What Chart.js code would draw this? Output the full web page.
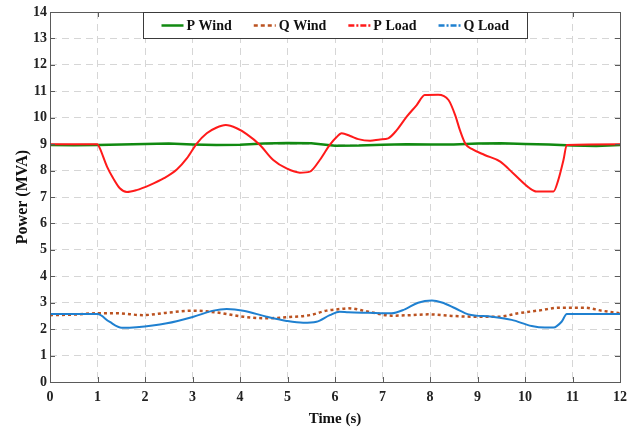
<!DOCTYPE html>
<html>
<head>
<meta charset="utf-8">
<script src="https://cdn.jsdelivr.net/npm/chart.js@4/dist/chart.umd.min.js"></script>
<style>
  html, body { margin: 0; padding: 0; background: #ffffff; }
  #wrap { width: 641px; height: 428px; }
</style>
</head>
<body>
<div id="wrap"><canvas id="power" width="641" height="428"></canvas></div>
<script>
// Tick labels
const timeTicks = [0, 1, 2, 3, 4, 5, 6, 7, 8, 9, 10, 11, 12];
const powerTicks = [0, 1, 2, 3, 4, 5, 6, 7, 8, 9, 10, 11, 12, 13, 14];

// Series labels
const seriesNames = ['P Wind', 'Q Wind', 'P Load', 'Q Load'];

// Wind active power (MVA)
const tPWind = [0, 0.5, 1, 1.5, 2, 2.5, 3, 3.5, 4, 4.5, 5, 5.5, 6, 6.5, 7, 7.5, 8, 8.5, 9, 9.5, 10, 10.5, 11, 11.5, 12];
const pWind  = [8.97, 8.96, 8.97, 8.99, 9.01, 9.02, 8.99, 8.97, 8.98, 9.02, 9.04, 9.03, 8.94, 8.95, 8.98, 9.0, 8.99, 8.99, 9.02, 9.03, 9.01, 8.99, 8.95, 8.93, 8.97];

// Wind reactive power
const tQWind = [0, 0.5, 0.98, 1.4, 1.96, 2.46, 3.02, 3.51, 4.07, 4.56, 5.05, 5.47, 5.82, 6.1, 6.28, 6.7, 7.19, 7.6, 7.96, 8.46, 8.95, 9.44, 9.86, 10.35, 10.7, 11.26, 11.61, 12];
const qWind  = [2.53, 2.55, 2.6, 2.6, 2.53, 2.62, 2.7, 2.63, 2.47, 2.41, 2.46, 2.53, 2.7, 2.76, 2.79, 2.66, 2.51, 2.53, 2.56, 2.5, 2.47, 2.47, 2.6, 2.72, 2.81, 2.81, 2.7, 2.6];

// Load active power
const tPLoad = [0, 1.0, 1.05, 1.2, 1.33, 1.47, 1.62, 1.82, 2.1, 2.4, 2.67, 2.88, 3.09, 3.3, 3.5, 3.7, 3.93, 4.14, 4.42, 4.7, 4.98, 5.26, 5.47, 5.68, 5.89, 6.03, 6.14, 6.32, 6.49, 6.74, 6.95, 7.12, 7.3, 7.51, 7.72, 7.89, 8.17, 8.39, 8.53, 8.63, 8.75, 8.88, 9.15, 9.48, 9.75, 10.1, 10.24, 10.6, 10.7, 10.81, 10.88, 12];
const pLoad  = [9.0, 9.0, 8.84, 8.15, 7.71, 7.33, 7.19, 7.26, 7.45, 7.71, 8.04, 8.46, 9.02, 9.41, 9.62, 9.72, 9.6, 9.38, 8.97, 8.4, 8.08, 7.92, 7.96, 8.4, 8.97, 9.26, 9.41, 9.31, 9.19, 9.13, 9.18, 9.22, 9.53, 10.04, 10.48, 10.86, 10.87, 10.67, 10.1, 9.53, 9.0, 8.82, 8.59, 8.34, 7.9, 7.33, 7.21, 7.21, 7.64, 8.4, 8.97, 9.0];

// Load reactive power
const tQLoad = [0, 1.0, 1.25, 1.51, 1.82, 2.46, 3.02, 3.44, 3.72, 4.07, 4.56, 4.98, 5.33, 5.61, 5.89, 6.1, 6.28, 6.7, 7.19, 7.47, 7.75, 8.04, 8.25, 8.53, 8.81, 9.3, 9.72, 10.14, 10.42, 10.6, 10.77, 10.88, 12];
const qLoad  = [2.57, 2.57, 2.28, 2.05, 2.07, 2.22, 2.47, 2.7, 2.76, 2.7, 2.47, 2.31, 2.24, 2.28, 2.53, 2.66, 2.64, 2.62, 2.6, 2.75, 3.0, 3.08, 3.01, 2.79, 2.56, 2.47, 2.35, 2.12, 2.06, 2.06, 2.28, 2.57, 2.57];

const pts = (ts, vs) => ts.map((t, i) => ({ x: t, y: vs[i] }));

const SERIF = '"Liberation Serif", "Times New Roman", serif';
const AXIS_COLOR = '#5a5a5a';

// Legend entry line styles (sample strokes inside the legend box)
const legendDash = [[], [4, 3], [6, 2, 2, 2], [6, 2, 2, 2]];

// Boxed axes with inward ticks on all four sides
const boxAxes = {
  id: 'boxAxes',
  afterDatasetsDraw(chart) {
    const { ctx, chartArea: a, scales } = chart;
    ctx.save();
    ctx.strokeStyle = AXIS_COLOR;
    ctx.lineWidth = 1;
    ctx.setLineDash([]);
    const len = 5;
    ctx.beginPath();
    timeTicks.forEach(v => {
      const x = Math.round(scales.x.getPixelForValue(v)) + 0.5;
      ctx.moveTo(x, a.bottom); ctx.lineTo(x, a.bottom - len);
      ctx.moveTo(x, a.top); ctx.lineTo(x, a.top + len);
    });
    powerTicks.forEach(v => {
      const y = Math.round(scales.y.getPixelForValue(v)) + 0.5;
      ctx.moveTo(a.left, y); ctx.lineTo(a.left + len, y);
      ctx.moveTo(a.right, y); ctx.lineTo(a.right - len, y);
    });
    ctx.stroke();
    ctx.strokeRect(Math.round(a.left) + 0.5, Math.round(a.top) + 0.5,
                   Math.round(a.right - a.left), Math.round(a.bottom - a.top));
    ctx.restore();
  }
};

// Horizontal boxed legend placed inside the top of the plot area
const boxLegend = {
  id: 'boxLegend',
  afterDraw(chart) {
    const { ctx, chartArea: a } = chart;
    const ds = chart.data.datasets;
    ctx.save();
    ctx.font = 'bold 14px ' + SERIF;
    const pad = 18, lineLen = 22, gap = 3, spacing = 22;
    const widths = ds.map(d => ctx.measureText(d.label).width);
    let total = pad * 2;
    widths.forEach((w, i) => { total += lineLen + gap + w + (i < ds.length - 1 ? spacing : 0); });
    const h = 26;
    const cx = (a.left + a.right) / 2;
    const left = Math.round(cx - total / 2) + 0.5;
    const top = Math.round(a.top) + 0.5;
    ctx.fillStyle = '#ffffff';
    ctx.fillRect(left, top, total, h);
    ctx.strokeStyle = '#3a3a3a';
    ctx.lineWidth = 1;
    ctx.strokeRect(left, top, Math.round(total), h);
    let x = left + pad;
    const y = top + h / 2;
    ds.forEach((d, i) => {
      ctx.beginPath();
      ctx.setLineDash(legendDash[i]);
      ctx.strokeStyle = d.borderColor;
      ctx.lineWidth = 2.5;
      ctx.moveTo(x, y); ctx.lineTo(x + lineLen, y);
      ctx.stroke();
      ctx.setLineDash([]);
      ctx.fillStyle = '#111111';
      ctx.textBaseline = 'middle';
      ctx.textAlign = 'left';
      ctx.fillText(d.label, x + lineLen + gap, y + 1);
      x += lineLen + gap + widths[i] + spacing;
    });
    ctx.restore();
  }
};

new Chart(document.getElementById('power'), {
  type: 'line',
  data: {
    datasets: [
      { label: seriesNames[0], data: pts(tPWind, pWind), borderColor: '#118a11', borderWidth: 2.5, tension: 0, order: 3 },
      { label: seriesNames[1], data: pts(tQWind, qWind), borderColor: '#bb5220', borderWidth: 2.5, borderDash: [3, 3], cubicInterpolationMode: 'monotone', order: 2 },
      { label: seriesNames[2], data: pts(tPLoad, pLoad), borderColor: '#ff1a1a', borderWidth: 2, cubicInterpolationMode: 'monotone', order: 0 },
      { label: seriesNames[3], data: pts(tQLoad, qLoad), borderColor: '#1f80d0', borderWidth: 2, cubicInterpolationMode: 'monotone', order: 1 }
    ]
  },
  options: {
    responsive: false,
    animation: false,
    devicePixelRatio: 1,
    layout: { padding: { left: 0, right: 21, top: 12, bottom: 0 } },
    elements: { point: { radius: 0 } },
    plugins: { legend: { display: false }, tooltip: { enabled: false } },
    scales: {
      x: {
        type: 'linear', min: 0, max: 12,
        afterBuildTicks: s => { s.ticks = timeTicks.map(v => ({ value: v })); },
        afterFit: s => { s.height = 46; },
        ticks: { color: '#222', font: { family: SERIF, size: 14, weight: 'bold' }, padding: 7, maxRotation: 0 },
        grid: { color: '#d6d6d6', lineWidth: 1, drawTicks: false },
        border: { display: false, dash: [7, 5] },
        title: { display: true, text: 'Time (s)', color: '#111', font: { family: SERIF, size: 15, weight: 'bold' }, padding: { top: 0, bottom: 0 } }
      },
      y: {
        type: 'linear', min: 0, max: 14,
        afterBuildTicks: s => { s.ticks = powerTicks.map(v => ({ value: v })); },
        afterFit: s => { s.width = 50; },
        ticks: { color: '#222', font: { family: SERIF, size: 14, weight: 'bold' }, padding: 3 },
        grid: { color: '#d6d6d6', lineWidth: 1, drawTicks: false },
        border: { display: false, dash: [7, 5] },
        title: { display: true, text: 'Power (MVA)', color: '#111', font: { family: SERIF, size: 16, weight: 'bold' }, padding: { top: 13, bottom: 0 } }
      }
    }
  },
  plugins: [boxAxes, boxLegend]
});
</script>
</body>
</html>
